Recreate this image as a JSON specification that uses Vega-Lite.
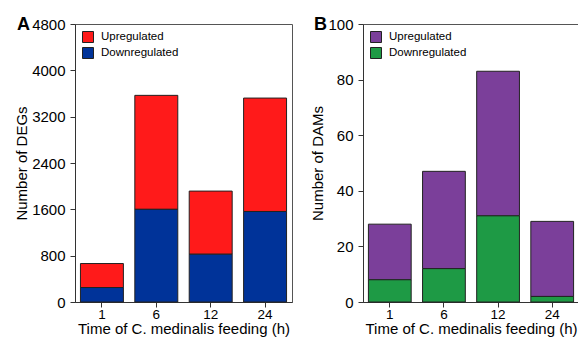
{
  "$schema": "https://vega.github.io/schema/vega-lite/v6.json",
  "padding": {"left": 14, "top": 15, "right": 0, "bottom": 0},
  "background": "white",
  "datasets": {
    "degs": [
      {"time": 1, "regulation": "Upregulated", "count": 414},
      {"time": 1, "regulation": "Downregulated", "count": 250},
      {"time": 6, "regulation": "Upregulated", "count": 1968},
      {"time": 6, "regulation": "Downregulated", "count": 1600},
      {"time": 12, "regulation": "Upregulated", "count": 1090},
      {"time": 12, "regulation": "Downregulated", "count": 825},
      {"time": 24, "regulation": "Upregulated", "count": 1958},
      {"time": 24, "regulation": "Downregulated", "count": 1563}
    ],
    "dams": [
      {"time": 1, "regulation": "Upregulated", "count": 20},
      {"time": 1, "regulation": "Downregulated", "count": 8},
      {"time": 6, "regulation": "Upregulated", "count": 35},
      {"time": 6, "regulation": "Downregulated", "count": 12},
      {"time": 12, "regulation": "Upregulated", "count": 52},
      {"time": 12, "regulation": "Downregulated", "count": 31},
      {"time": 24, "regulation": "Upregulated", "count": 27},
      {"time": 24, "regulation": "Downregulated", "count": 2}
    ]
  },
  "config": {
    "font": "Liberation Sans",
    "view": {"stroke": "#555555", "strokeWidth": 1},
    "axis": {
      "grid": false,
      "domainColor": "#333333",
      "tickColor": "#333333",
      "tickSize": 5,
      "labelFontSize": 15,
      "titleFontSize": 15,
      "labelColor": "black",
      "titleColor": "black",
      "titleFontWeight": "normal",
      "labelFont": "Liberation Sans",
      "titleFont": "Liberation Sans"
    },
    "legend": {
      "labelFontSize": 11.5,
      "labelFont": "Liberation Sans",
      "labelColor": "black",
      "symbolType": "square",
      "symbolSize": 121,
      "symbolStrokeColor": "#222222",
      "symbolStrokeWidth": 1,
      "symbolOpacity": 1,
      "labelOffset": 7,
      "rowPadding": 0,
      "padding": 0,
      "offset": 7
    },
    "title": {
      "font": "Liberation Sans",
      "fontSize": 18,
      "fontWeight": "bold",
      "color": "black",
      "anchor": "start",
      "frame": "group",
      "baseline": "alphabetic"
    }
  },
  "bounds": "flush",
  "spacing": 71,
  "hconcat": [
    {
      "width": 217,
      "height": 278,
      "title": {"text": "A", "dx": -58, "offset": -17},
      "data": {"name": "degs"},
      "mark": {"type": "bar", "stroke": "#222222", "strokeWidth": 1},
      "encoding": {
        "x": {
          "field": "time", "type": "ordinal",
          "scale": {"paddingInner": 0.21, "paddingOuter": 0.1},
          "axis": {"labelAngle": 0, "title": "Time of C. medinalis feeding (h)", "labelFontSize": 13.5, "labelPadding": 0, "titlePadding": 1}
        },
        "y": {
          "field": "count", "type": "quantitative", "aggregate": "sum",
          "scale": {"domain": [0, 4800]},
          "axis": {"values": [0, 800, 1600, 2400, 3200, 4000, 4800], "format": "d", "title": "Number of DEGs", "labelPadding": 5, "titlePadding": 2}
        },
        "color": {
          "field": "regulation", "type": "nominal",
          "scale": {"domain": ["Upregulated", "Downregulated"], "range": ["#FF1A1A", "#003399"]},
          "legend": {"title": null, "orient": "top-left"}
        },
        "order": {"field": "regulation", "sort": "ascending"}
      }
    },
    {
      "width": 216,
      "height": 278,
      "title": {"text": "B", "dx": -49, "offset": -17},
      "data": {"name": "dams"},
      "mark": {"type": "bar", "stroke": "#222222", "strokeWidth": 1},
      "encoding": {
        "x": {
          "field": "time", "type": "ordinal",
          "scale": {"paddingInner": 0.21, "paddingOuter": 0.1},
          "axis": {"labelAngle": 0, "title": "Time of C. medinalis feeding (h)", "labelFontSize": 13.5, "labelPadding": 0, "titlePadding": 1}
        },
        "y": {
          "field": "count", "type": "quantitative", "aggregate": "sum",
          "scale": {"domain": [0, 100]},
          "axis": {"values": [0, 20, 40, 60, 80, 100], "format": "d", "title": "Number of DAMs", "labelPadding": 5, "titlePadding": 2}
        },
        "color": {
          "field": "regulation", "type": "nominal",
          "scale": {"domain": ["Upregulated", "Downregulated"], "range": ["#7B3F9A", "#1E9A45"]},
          "legend": {"title": null, "orient": "top-left"}
        },
        "order": {"field": "regulation", "sort": "ascending"}
      }
    }
  ],
  "resolve": {
    "scale": {"color": "independent", "y": "independent", "x": "independent"},
    "legend": {"color": "independent"}
  }
}
